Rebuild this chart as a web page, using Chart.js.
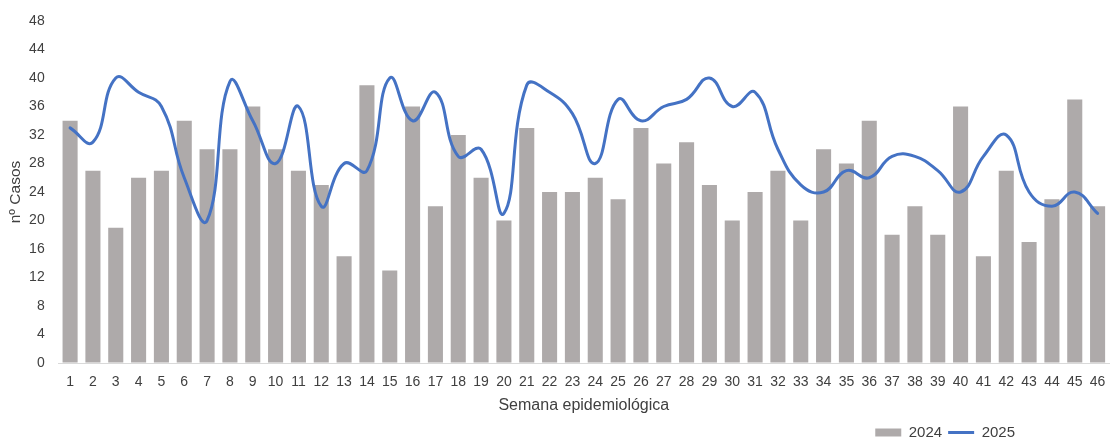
<!DOCTYPE html>
<html>
<head>
<meta charset="utf-8">
<script src="https://cdn.jsdelivr.net/npm/chart.js@4/dist/chart.umd.min.js"></script>
<style>
  html, body { margin: 0; padding: 0; background: #fff; }
  #wrap { width: 1110px; height: 440px; }
</style>
</head>
<body>
<div id="wrap"><canvas id="myChart"></canvas></div>
<script>
// semanas epidemiologicas
var semanas = [];
for (var i = 1; i <= 46; i++) semanas.push(String(i));

var casos2024 = [34, 27, 19, 26, 27, 34, 30, 30, 36, 30, 27, 25, 15, 39, 13, 36, 22, 32, 26, 20,
                 33, 24, 24, 26, 23, 33, 28, 31, 25, 20, 24, 27, 20, 30, 28, 34, 18, 22, 18, 36,
                 15, 27, 17, 23, 37, 22];
var casos2025 = [33, 31, 40, 38, 36, 26, 20, 39.5, 34, 28, 36, 22, 28, 27, 40, 34, 38, 29, 30, 21,
                 39, 38, 35, 28, 37, 34, 36, 37, 40, 36, 38, 30, 25, 24, 27, 26, 29, 29, 27, 24,
                 29, 32, 24, 22, 24, 21];
var yTicks = [0, 4, 8, 12, 16, 20, 24, 28, 32, 36, 40, 44, 48];

var GRIS = '#AEAAAA';
var AZUL = '#4472C4';
var TEXTO = '#404040';
var INVISIBLE = 'rgba(0,0,0,0)';

// mueve la leyenda abajo a la derecha como en el original
var moverLeyenda = {
  id: 'moverLeyenda',
  afterLayout: function(chart) {
    var lg = chart.legend;
    var h = lg.bottom - lg.top;
    lg.right = 1021;
    lg.bottom = 450;
    lg.top = 450 - h;
  }
};

Chart.defaults.font.family = "'Liberation Sans', Arial, sans-serif";
Chart.defaults.font.size = 14;
Chart.defaults.color = TEXTO;

new Chart("myChart", {
  type: "bar",
  data: {
    labels: semanas,
    datasets: [{
      type: 'bar',
      label: '2024',
      data: casos2024,
      backgroundColor: GRIS,
      borderWidth: 0,
      barPercentage: 0.66,
      categoryPercentage: 1,
      order: 1,
      pointStyle: 'rect'
    }, {
      type: 'line',
      label: '2025',
      data: casos2025,
      borderColor: AZUL,
      backgroundColor: AZUL,
      borderWidth: 3,
      borderCapStyle: 'round',
      pointRadius: 0,
      tension: 0.45,
      fill: false,
      order: 0,
      pointStyle: 'line'
    }]
  },
  options: {
    responsive: true,
    maintainAspectRatio: false,
    animation: false,
    layout: { padding: { top: 21, left: 0, right: 1, bottom: -6 } },
    plugins: {
      tooltip: { enabled: false },
      legend: {
        position: 'bottom',
        align: 'end',
        labels: {
          usePointStyle: true,
          pointStyleWidth: 26,
          boxHeight: 8,
          padding: 6,
          color: TEXTO,
          font: { size: 15 },
          sort: function(a, b) { return a.datasetIndex - b.datasetIndex; }
        }
      }
    },
    scales: {
      x: {
        grid: { display: true, color: INVISIBLE, drawOnChartArea: false, drawTicks: true, tickLength: 11 },
        border: { display: true, color: '#D9D9D9', width: 1 },
        ticks: { padding: 0, maxRotation: 0, autoSkip: false, color: TEXTO },
        title: {
          display: true,
          text: 'Semana epidemiológica',
          color: TEXTO,
          font: { size: 16 },
          padding: { top: 5, bottom: 0 }
        }
      },
      y: {
        min: 0,
        max: 48,
        afterBuildTicks: function(scale) {
          scale.ticks = yTicks.map(function(v) { return { value: v }; });
        },
        grid: { display: true, color: INVISIBLE, drawOnChartArea: false, drawTicks: true, tickLength: 14 },
        border: { display: false },
        ticks: { padding: 0, color: TEXTO },
        title: {
          display: true,
          text: 'nº Casos',
          color: TEXTO,
          font: { size: 15.5 },
          padding: { top: 6, bottom: 4.5 }
        }
      }
    }
  },
  plugins: [moverLeyenda]
});
console.log("ok");
</script>
</body>
</html>
